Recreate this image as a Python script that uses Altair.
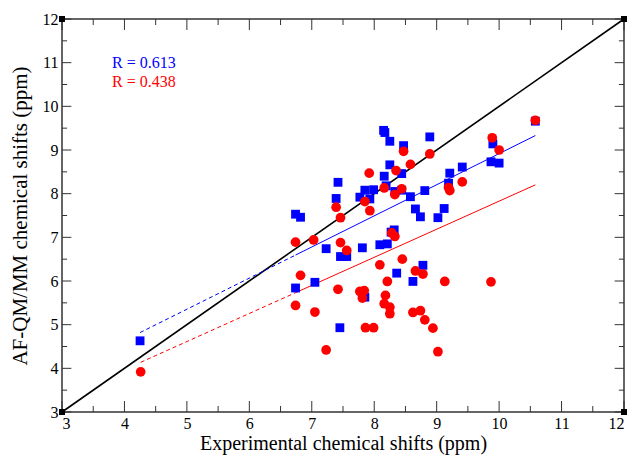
import altair as alt
import pandas as pd

# ---- data ----
BLUE_X = [4.25, 6.74, 6.82, 6.74, 7.05, 7.23, 7.42, 7.39, 7.46, 7.56, 7.45, 7.81,
          7.85, 7.77, 7.93, 7.99, 7.85, 8.09, 8.21, 8.15, 8.17, 8.25, 8.47, 8.89,
          8.25, 8.16, 8.44, 8.19, 8.33, 8.44, 8.58, 8.81, 8.66, 8.74, 9.02, 9.12,
          8.32, 8.27, 8.36, 8.78, 8.62, 9.21, 9.19, 9.41, 9.90, 9.87, 10.00, 10.58]
BLUE_Y = [4.63, 7.53, 7.46, 5.84, 5.97, 6.74, 8.26, 7.89, 6.56, 6.56, 4.93, 6.76,
          8.08, 7.92, 7.88, 8.09, 5.63, 6.83, 6.85, 9.45, 9.40, 9.20, 9.10, 9.30,
          8.66, 8.40, 8.46, 8.18, 8.05, 8.08, 7.93, 8.07, 7.65, 7.47, 7.45, 7.66,
          7.17, 7.12, 6.18, 6.36, 5.99, 8.47, 8.24, 8.61, 9.14, 8.73, 8.70, 9.66]

RED_X = [4.26, 6.74, 7.03, 6.82, 6.74, 7.05, 7.23, 7.42, 7.39, 7.46, 7.46, 7.56,
         7.77, 7.84, 7.81, 7.86, 7.99, 7.85, 7.93, 7.92, 8.09, 8.16, 8.18, 8.16,
         8.25, 8.25, 8.21, 8.28, 8.33, 8.33, 8.35, 8.44, 8.45, 8.47, 8.58, 8.62,
         8.66, 8.74, 8.78, 8.81, 8.89, 8.94, 9.02, 9.13, 9.19, 9.21, 9.41, 9.87,
         9.89, 10.00, 10.58]
RED_Y = [3.92, 6.89, 6.94, 6.13, 5.44, 5.29, 4.42, 5.81, 7.69, 7.45, 6.88, 6.70,
         5.76, 5.78, 5.61, 4.93, 4.93, 7.82, 7.61, 8.47, 6.37, 8.13, 5.67, 5.48,
         5.40, 5.25, 5.99, 7.10, 7.02, 7.98, 8.53, 8.11, 6.50, 8.97, 8.67, 5.28,
         6.23, 5.32, 6.16, 5.11, 8.91, 4.92, 4.38, 5.99, 8.14, 8.07, 8.27, 5.98,
         9.28, 9.00, 9.68]

AXIS_MIN, AXIS_MAX = 3, 12
MAJOR_TICKS = [3, 4, 5, 6, 7, 8, 9, 10, 11, 12]
MINOR_TICKS = [3.5, 4.5, 5.5, 6.5, 7.5, 8.5, 9.5, 10.5, 11.5]
FIT_SPLIT = 6.74   # dashed (extrapolated) part of the fit lines ends here

R_LABELS = ["R = 0.613", "R = 0.438"]
R_COLORS = ["#0000ff", "#ff0000"]
R_X = [3.80, 3.80]
R_Y = [11.00, 10.56]

BLUE = "#0000ff"
RED = "#ff0000"
FONT = "Liberation Serif"

W, H = 562, 393

blue_df = pd.DataFrame({"x": BLUE_X, "y": BLUE_Y})
red_df = pd.DataFrame({"x": RED_X, "y": RED_Y})
diag_df = pd.DataFrame({"x": [AXIS_MIN, AXIS_MAX], "y": [AXIS_MIN, AXIS_MAX]})
corner_df = pd.DataFrame({"x": [AXIS_MIN, AXIS_MIN, AXIS_MAX, AXIS_MAX],
                          "y": [AXIS_MIN, AXIS_MAX, AXIS_MIN, AXIS_MAX]})
r_df = pd.DataFrame({"x": R_X, "y": R_Y, "t": R_LABELS, "c": R_COLORS})

xs = alt.Scale(domain=[AXIS_MIN, AXIS_MAX], nice=False, zero=False)
ys = alt.Scale(domain=[AXIS_MIN, AXIS_MAX], nice=False, zero=False)

xaxis = alt.Axis(values=MAJOR_TICKS, format="d", tickSize=0, domain=False, grid=False,
                 labelFont=FONT, labelFontSize=16, labelColor="black", labelPadding=3,
                 title="Experimental chemical shifts (ppm)", titleFont=FONT,
                 titleFontSize=20, titleFontWeight="normal", titleColor="black",
                 titlePadding=2)
yaxis = alt.Axis(values=MAJOR_TICKS, format="d", tickSize=0, domain=False, grid=False,
                 labelFont=FONT, labelFontSize=16, labelColor="black", labelPadding=4,
                 title="AF-QM/MM chemical shifts (ppm)", titleFont=FONT,
                 titleFontSize=21, titleFontWeight="normal", titleColor="black",
                 titlePadding=12)

X = alt.X("x:Q", scale=xs, axis=xaxis)
Y = alt.Y("y:Q", scale=ys, axis=yaxis)

TICK_COLOR = "#333333"
layers = []
# inward ticks on all four sides
for vals, ln in [(MAJOR_TICKS, 11), (MINOR_TICKS, 6)]:
    tx = pd.DataFrame({"x": vals})
    ty = pd.DataFrame({"y": vals})
    layers.append(alt.Chart(tx).mark_rule(color=TICK_COLOR, strokeWidth=1).encode(
        x=X, y=alt.value(H), y2=alt.value(H - ln)))
    layers.append(alt.Chart(tx).mark_rule(color=TICK_COLOR, strokeWidth=1).encode(
        x=X, y=alt.value(0), y2=alt.value(ln)))
    layers.append(alt.Chart(ty).mark_rule(color=TICK_COLOR, strokeWidth=1).encode(
        y=Y, x=alt.value(0), x2=alt.value(ln * 0.85)))
    layers.append(alt.Chart(ty).mark_rule(color=TICK_COLOR, strokeWidth=1).encode(
        y=Y, x=alt.value(W), x2=alt.value(W - ln * 0.85)))

diag = alt.Chart(diag_df).mark_line(color="black", strokeWidth=1.6).encode(x=X, y=Y)


def fit(df, color, lo, hi, dash):
    kw = {"color": color, "strokeWidth": 1}
    if dash:
        kw["strokeDash"] = [4, 3]
    return (alt.Chart(df)
            .transform_regression("x", "y", extent=[lo, hi])
            .mark_line(**kw).encode(x=X, y=Y))


blue_fit_d = fit(blue_df, BLUE, min(BLUE_X), FIT_SPLIT, True)
blue_fit_s = fit(blue_df, BLUE, FIT_SPLIT, max(BLUE_X), False)
red_fit_d = fit(red_df, RED, min(RED_X), FIT_SPLIT, True)
red_fit_s = fit(red_df, RED, FIT_SPLIT, max(RED_X), False)

blue_pts = alt.Chart(blue_df).mark_point(shape="square", filled=True, size=78,
                                         color=BLUE, opacity=1).encode(x=X, y=Y)
red_pts = alt.Chart(red_df).mark_point(shape="circle", filled=True, size=95,
                                       color=RED, opacity=1).encode(x=X, y=Y)
corners = alt.Chart(corner_df).mark_point(shape="square", filled=True, size=36,
                                          color="black", opacity=1).encode(x=X, y=Y)

rtext = alt.Chart(r_df).mark_text(align="left", baseline="middle", font=FONT,
                                  fontSize=16).encode(
    x=X, y=Y, text="t:N", color=alt.Color("c:N", scale=None))

chart = alt.layer(*layers, diag, blue_fit_d, blue_fit_s, red_fit_d, red_fit_s,
                  blue_pts, red_pts, corners, rtext).properties(
    width=W, height=H,
    autosize=alt.AutoSizeParams(type="none"),
    padding={"left": 62, "top": 19, "right": 8, "bottom": 45},
    background="white",
).configure_view(stroke="#333333", strokeWidth=1.5)

chart.save("out.html", embed_options={"renderer": "svg", "actions": False})
